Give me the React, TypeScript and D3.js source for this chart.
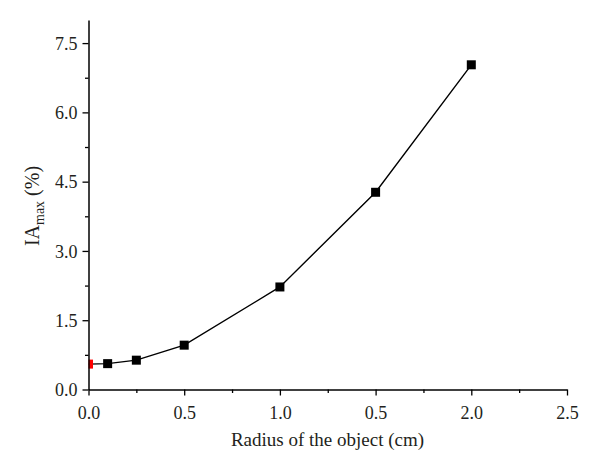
import React, { useEffect, useRef } from 'react';
import * as d3 from 'd3';

// Radius of the object (cm) vs IAmax (%)
const radius = [0.0, 0.1, 0.25, 0.5, 1.0, 1.5, 2.0];
const iaMax = [0.55, 0.56, 0.635, 0.96, 2.22, 4.27, 7.03];
const xTicks = [0.0, 0.5, 1.0, 1.5, 2.0, 2.5];
// labels as printed in the figure (the 1.5 tick reads "0.5")
const xTickLabels = ['0.0', '0.5', '1.0', '0.5', '2.0', '2.5'];
const yTicks = [0.0, 1.5, 3.0, 4.5, 6.0, 7.5];

const W = 600;
const H = 474;
const FONT = "'Liberation Serif', 'DejaVu Serif', serif";
const INK = '#231f20';

const App: React.FC = () => {
  const ref = useRef<SVGSVGElement>(null);

  useEffect(() => {
    document.body.style.margin = '0';
    if (!ref.current) return;
    const svg = d3.select(ref.current);
    svg.selectAll('*').remove();

    const left = 88.5, right = 567, top = 20, bottom = 389.5;
    const x = d3.scaleLinear().domain([0, 2.5]).range([left, right]);
    const y = d3.scaleLinear().domain([0, 8]).range([bottom, top]);

    svg.append('rect').attr('width', W).attr('height', H).attr('fill', '#fff');

    svg.append('defs').append('clipPath').attr('id', 'plot')
      .append('rect').attr('x', left).attr('y', top)
      .attr('width', right - left).attr('height', bottom - top);

    const pts = radius.map((r, i) => ({ r, v: iaMax[i] }));

    const plot = svg.append('g').attr('clip-path', 'url(#plot)');
    plot.append('path')
      .datum(pts)
      .attr('fill', 'none')
      .attr('stroke', '#000')
      .attr('stroke-width', 1.4)
      .attr('d', d3.line<{ r: number; v: number }>().x(d => x(d.r)).y(d => y(d.v)));

    const s = 9;
    plot.selectAll('rect.pt')
      .data(pts)
      .enter()
      .append('rect')
      .attr('class', 'pt')
      .attr('x', d => x(d.r) - s / 2)
      .attr('y', d => y(d.v) - s / 2)
      .attr('width', s)
      .attr('height', s)
      .attr('fill', (d, i) => (i === 0 ? '#ff0000' : '#000'));

    // X axis
    const xAxis = svg.append('g')
      .attr('transform', `translate(0,${bottom})`)
      .call(d3.axisBottom(x).tickValues(xTicks).tickSize(6).tickSizeOuter(0)
        .tickFormat((d, i) => xTickLabels[i]));
    svg.append('g')
      .attr('transform', `translate(0,${bottom})`)
      .call(d3.axisBottom(x).tickValues(d3.range(0.25, 2.5, 0.5)).tickSize(3.5).tickSizeOuter(0).tickFormat(() => ''))
      .select('.domain').remove();

    // Y axis
    const yAxis = svg.append('g')
      .attr('transform', `translate(${left},0)`)
      .call(d3.axisLeft(y).tickValues(yTicks).tickSize(6).tickSizeOuter(0)
        .tickFormat(d3.format('.1f')));
    svg.append('g')
      .attr('transform', `translate(${left},0)`)
      .call(d3.axisLeft(y).tickValues(d3.range(0.75, 8, 1.5)).tickSize(3.5).tickSizeOuter(0).tickFormat(() => ''))
      .select('.domain').remove();

    svg.selectAll('g').attr('font-family', null);
    svg.selectAll('.domain').attr('stroke', '#000').attr('stroke-width', 1.5);
    svg.selectAll('.tick line').attr('stroke', '#000').attr('stroke-width', 1.3);

    xAxis.selectAll('.tick text')
      .style('font-family', FONT).style('font-size', '18px').attr('fill', INK)
      .attr('dy', null).attr('y', 29);
    yAxis.selectAll('.tick text')
      .style('font-family', FONT).style('font-size', '18px').attr('fill', INK)
      .attr('x', -11).attr('dy', '0.34em');

    svg.append('text')
      .attr('x', 327.5)
      .attr('y', 446)
      .attr('text-anchor', 'middle')
      .style('font-family', FONT)
      .style('font-size', '19px')
      .attr('fill', INK)
      .text('Radius of the object (cm)');

    const yl = svg.append('text')
      .attr('transform', `translate(39,206) rotate(-90)`)
      .attr('text-anchor', 'middle')
      .style('font-family', FONT)
      .style('font-size', '20px')
      .attr('fill', INK);
    yl.append('tspan').text('IA');
    yl.append('tspan').style('font-size', '14px').attr('dy', 5).text('max');
    yl.append('tspan').attr('dy', -5).text(' (%)');
  }, []);

  return <svg ref={ref} width={W} height={H} style={{ display: 'block' }} />;
};

export default App;
